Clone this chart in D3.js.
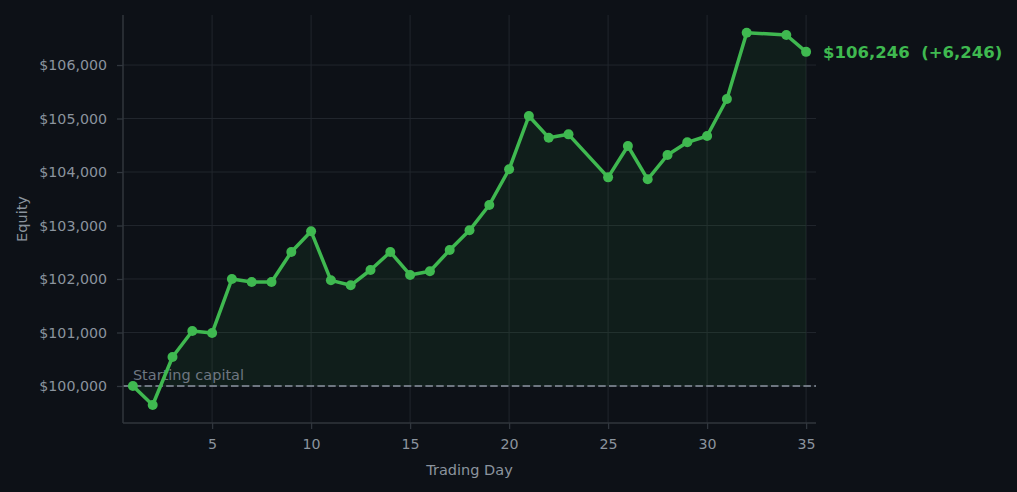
<!DOCTYPE html>
<html>
<head>
<meta charset="utf-8">
<script src="https://cdn.jsdelivr.net/npm/d3@7"></script>
<style>
  body { margin: 0; background: #0d1117; }
  svg { display: block; font-family: "DejaVu Sans", sans-serif; }
</style>
</head>
<body>
<div id="chart"></div>
<script>
// data (days 24 and 33 have no point)
var days = [1, 2, 3, 4, 5, 6, 7, 8, 9, 10, 11, 12, 13, 14, 15, 16, 17, 18, 19, 20,
  21, 22, 23, 25, 26, 27, 28, 29, 30, 31, 32, 34, 35];
var equity = [100000, 99645, 100542, 101028, 100990, 102000, 101944, 101944, 102505, 102891,
  101975, 101882, 102168, 102505, 102075, 102144, 102542, 102910, 103383, 104050,
  105047, 104642, 104704, 103900, 104486, 103863, 104318, 104555, 104673, 105365,
  106604, 106561, 106246];
var startCapital = 100000;
var xTicks = [5, 10, 15, 20, 25, 30, 35];
var yTicks = [100000, 101000, 102000, 103000, 104000, 105000, 106000];

var svgWidth = 1017;
var svgHeight = 492;
var margin = { top: 15, right: 201, bottom: 69, left: 123 };
var width = svgWidth - margin.left - margin.right;
var height = svgHeight - margin.top - margin.bottom;

var green = "#3fb950";
var muted = "#8b949e";
var gridColor = "#21262d";
var spineColor = "#30363d";

var data = days.map((d, i) => ({ day: d, value: equity[i] }));

var svg = d3.select("#chart").append("svg")
  .attr("width", svgWidth)
  .attr("height", svgHeight);

svg.append("rect").attr("width", svgWidth).attr("height", svgHeight).attr("fill", "#0d1117");

var chartGroup = svg.append("g")
  .attr("transform", `translate(${margin.left}, ${margin.top})`);

var xScale = d3.scaleLinear().domain([0.5, 35.5]).range([0, width]);
var yScale = d3.scaleLinear().domain([99308, 106935]).range([height, 0]);

// grid
chartGroup.append("g").selectAll("line")
  .data(xTicks).enter().append("line")
  .attr("x1", d => xScale(d)).attr("x2", d => xScale(d))
  .attr("y1", 0).attr("y2", height)
  .attr("stroke", gridColor).attr("stroke-width", 1);

chartGroup.append("g").selectAll("line")
  .data(yTicks).enter().append("line")
  .attr("x1", 0).attr("x2", width)
  .attr("y1", d => yScale(d)).attr("y2", d => yScale(d))
  .attr("stroke", gridColor).attr("stroke-width", 1);

// fill between the curve and starting capital
var area = d3.area()
  .x(d => xScale(d.day))
  .y0(yScale(startCapital))
  .y1(d => yScale(d.value));

chartGroup.append("path")
  .datum(data)
  .attr("d", area)
  .attr("fill", green)
  .attr("fill-opacity", 0.08);

// starting capital line
chartGroup.append("line")
  .attr("x1", 0).attr("x2", width)
  .attr("y1", yScale(startCapital)).attr("y2", yScale(startCapital))
  .attr("stroke", "#6e7681")
  .attr("stroke-width", 2)
  .attr("stroke-dasharray", "7.5,3.3");

chartGroup.append("text")
  .attr("x", xScale(1))
  .attr("y", yScale(startCapital) - 6)
  .attr("fill", "#6e7681")
  .style("font-size", "14.5px")
  .text("Starting capital");

// axes
var bottomAxis = d3.axisBottom(xScale).tickValues(xTicks).tickSize(6).tickPadding(10);
var leftAxis = d3.axisLeft(yScale).tickValues(yTicks).tickSize(6).tickPadding(10)
  .tickFormat(d => "$" + d3.format(",")(d));

var xAxis = chartGroup.append("g")
  .attr("transform", `translate(0, ${height})`)
  .call(bottomAxis);
var yAxis = chartGroup.append("g").call(leftAxis);

[xAxis, yAxis].forEach(function(ax) {
  ax.select(".domain").attr("stroke", spineColor).attr("stroke-width", 1.5);
  ax.selectAll(".tick line").attr("stroke", spineColor).attr("stroke-width", 1.3);
  ax.selectAll(".tick text").attr("fill", muted)
    .style("font-size", "14.2px").style("font-family", "DejaVu Sans");
});
// matplotlib-style spines: no end caps
xAxis.select(".domain").attr("d", `M0,0H${width}`);
yAxis.select(".domain").attr("d", `M0,0V${height}`);

// equity line
var line = d3.line().x(d => xScale(d.day)).y(d => yScale(d.value));

chartGroup.append("path")
  .datum(data)
  .attr("d", line)
  .attr("fill", "none")
  .attr("stroke", green)
  .attr("stroke-width", 3.5)
  .attr("stroke-linejoin", "round");

chartGroup.selectAll(".pt")
  .data(data).enter().append("circle")
  .attr("class", "pt")
  .attr("cx", d => xScale(d.day))
  .attr("cy", d => yScale(d.value))
  .attr("r", 5)
  .attr("fill", green);

// final value annotation
var last = data[data.length - 1];
chartGroup.append("text")
  .attr("x", xScale(last.day) + 17)
  .attr("y", yScale(last.value))
  .attr("dy", "0.35em")
  .attr("fill", green)
  .style("font-size", "16.5px")
  .style("font-weight", "bold")
  .style("white-space", "pre")
  .text("$" + d3.format(",")(last.value) + "  (+" + d3.format(",")(last.value - startCapital) + ")");

// axis labels
chartGroup.append("text")
  .attr("x", width / 2)
  .attr("y", height + 52)
  .attr("text-anchor", "middle")
  .attr("fill", muted)
  .style("font-size", "14.5px")
  .text("Trading Day");

chartGroup.append("text")
  .attr("transform", "rotate(-90)")
  .attr("x", -height / 2)
  .attr("y", -96)
  .attr("text-anchor", "middle")
  .attr("fill", muted)
  .style("font-size", "14.5px")
  .text("Equity");
</script>
</body>
</html>
